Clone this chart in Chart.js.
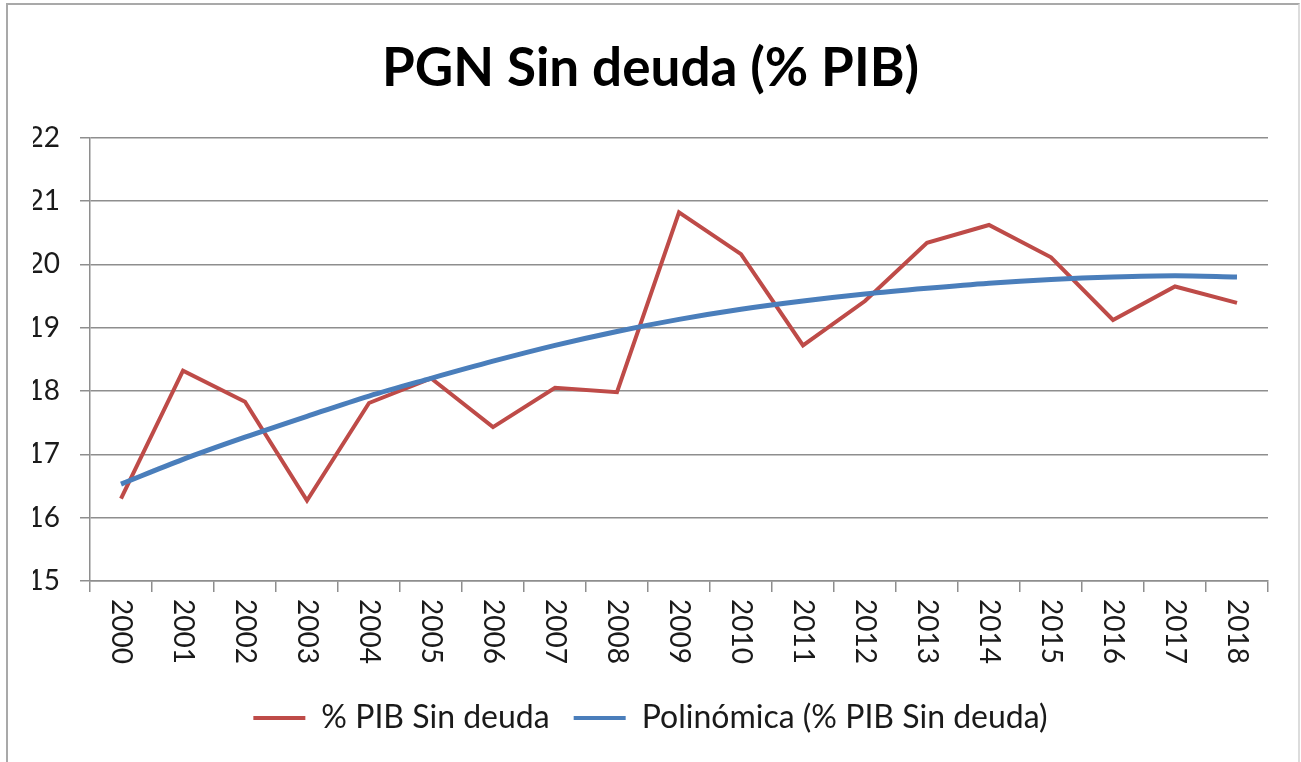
<!DOCTYPE html>
<html>
<head>
<meta charset="utf-8">
<script src="https://cdn.jsdelivr.net/npm/chart.js@4/dist/chart.umd.min.js"></script>
<style>
  html, body { margin: 0; padding: 0; background: #ffffff; overflow: hidden; }
  #frame { position: absolute; left: 6px; top: 3px; width: 1290px; height: 800px;
           border-top: 2px solid #a9a9a9; border-left: 2px solid #a9a9a9; border-right: 2px solid #dcdcdc; }
  #wrap { position: absolute; left: 0; top: 0; width: 1301px; height: 762px; }
</style>
</head>
<body>
<div id="frame"></div>
<div id="wrap"><canvas id="c" width="1301" height="762"></canvas></div>
<script>
const years = ['2000','2001','2002','2003','2004','2005','2006','2007','2008','2009','2010','2011','2012','2013','2014','2015','2016','2017','2018'];
const pibSinDeuda = [16.30, 18.32, 17.83, 16.27, 17.81, 18.20, 17.43, 18.05, 17.98, 20.82, 20.16, 18.72, 19.42, 20.34, 20.62, 20.11, 19.12, 19.65, 19.39];
const polinomica = [16.53, 16.92, 17.27, 17.60, 17.92, 18.20, 18.47, 18.72, 18.94, 19.13, 19.29, 19.42, 19.53, 19.62, 19.70, 19.76, 19.80, 19.82, 19.80];
const seriesNames = ['% PIB Sin deuda', 'Polinómica (% PIB Sin deuda)'];
const chartTitle = 'PGN Sin deuda (% PIB)';
const yMin = 15, yMax = 22, yStep = 1;

const FONT = 'Lato, "Open Sans", "DejaVu Sans", sans-serif';
const RED = '#BE4B48';
const BLUE = '#4A7EBB';
const GRID = '#8e8e8e';
const TEXT = '#1a1a1a';

const xLabelPlugin = {
  id: 'xLabelsDown',
  afterDraw(chart) {
    const xs = chart.scales.x;
    const ctx = chart.ctx;
    ctx.save();
    ctx.fillStyle = TEXT;
    ctx.font = '28px ' + FONT;
    ctx.textAlign = 'left';
    ctx.textBaseline = 'middle';
    years.forEach((lab, i) => {
      const x = xs.getPixelForValue(i);
      const y = xs.top + 18;
      ctx.save();
      ctx.translate(x, y);
      ctx.rotate(Math.PI / 2);
      ctx.fillText(lab, 0, 0);
      ctx.restore();
    });
    ctx.restore();
  }
};

new Chart(document.getElementById('c'), {
  type: 'line',
  data: {
    labels: years,
    datasets: [
      { label: seriesNames[0], data: pibSinDeuda, borderColor: RED, backgroundColor: RED,
        borderWidth: 4, pointRadius: 0, tension: 0, order: 2 },
      { label: seriesNames[1], data: polinomica, borderColor: BLUE, backgroundColor: BLUE,
        borderWidth: 5, pointRadius: 0, tension: 0.4, cubicInterpolationMode: 'monotone', order: 1 }
    ]
  },
  options: {
    responsive: false,
    animation: false,
    devicePixelRatio: 1,
    layout: { padding: { left: 33, right: 33, top: 0, bottom: 18 } },
    plugins: {
      title: {
        display: true, text: chartTitle, color: '#000',
        font: { family: FONT, size: 53, weight: 'bold', lineHeight: 1.2 },
        padding: { top: 37, bottom: 37 }
      },
      legend: {
        position: 'bottom',
        labels: {
          color: TEXT,
          font: { family: FONT, size: 32 },
          boxWidth: 52, boxHeight: 4, padding: 24,
          generateLabels(chart) {
            return chart.data.datasets.map((ds, i) => ({
              text: ds.label, fillStyle: ds.borderColor, strokeStyle: ds.borderColor,
              lineWidth: 0, hidden: false, datasetIndex: i, fontColor: TEXT
            }));
          }
        }
      },
      tooltip: { enabled: false }
    },
    scales: {
      x: {
        type: 'category',
        offset: true,
        grid: { display: true, offset: true, drawOnChartArea: false, drawTicks: true, tickLength: 11, color: GRID, lineWidth: 1.5 },
        border: { display: true, color: GRID, width: 1.5 },
        ticks: { display: false },
        afterFit(s) { s.height = 97; }
      },
      y: {
        min: yMin, max: yMax,
        grid: { color: GRID, lineWidth: 1.5, tickLength: 10, drawTicks: true },
        border: { display: true, color: GRID, width: 1.5 },
        ticks: { stepSize: yStep, color: TEXT, padding: 20, font: { family: FONT, size: 28 } },
        afterFit(s) { s.width = 57; }
      }
    }
  },
  plugins: [xLabelPlugin]
});
</script>
</body>
</html>
